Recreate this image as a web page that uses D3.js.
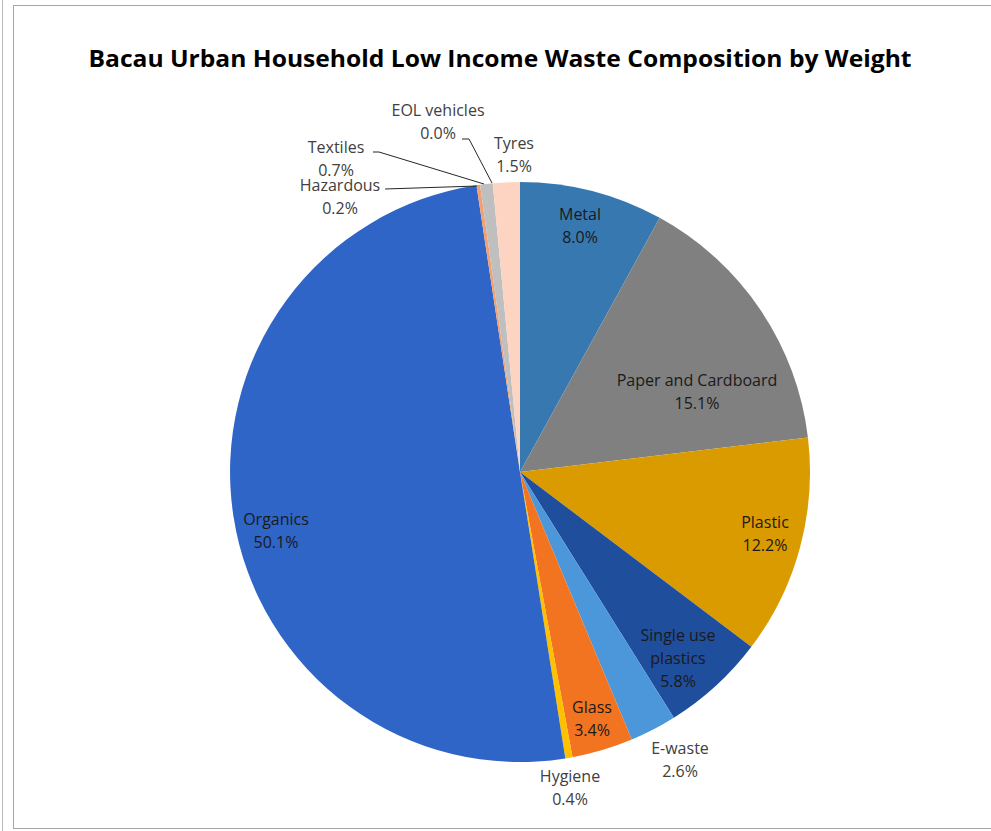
<!DOCTYPE html>
<html><head><meta charset="utf-8">
<script src="https://cdn.jsdelivr.net/npm/d3@7"></script>
<style>
html,body{margin:0;padding:0;background:#fff;}
svg{display:block;}
text{font-family:"Open Sans",sans-serif;}
</style></head>
<body>
<svg id="c" width="991" height="831"></svg>
<script>
const categories = ["Metal","Paper and Cardboard","Plastic","Single use plastics","E-waste","Glass","Hygiene","Organics","Hazardous","Textiles","EOL vehicles","Tyres"];
const values = [8.0,15.1,12.2,5.8,2.6,3.4,0.4,50.1,0.2,0.7,0.0,1.5];
const colors = ["#3878b0","#808080","#da9b00","#1f4e9d","#4c97d9","#f27420","#ffc000","#2f65c6","#f2a070","#bfbfbf","#9e9e9e","#fdd3c1"];
const title = "Bacau Urban Household Low Income Waste Composition by Weight";

// label layout (line breaks, centre offsets relative to pie centre, inside/outside)
const labelLines = {"Single use plastics":["Single use","plastics"]};
const labelLayout = {
  "Metal":[60,-246,true], "Paper and Cardboard":[177,-80,true], "Plastic":[245,62,true],
  "Single use plastics":[158,187,true], "E-waste":[160,288,false], "Glass":[72,247,true],
  "Hygiene":[50,316,false], "Organics":[-244,59,true], "Hazardous":[-180,-275,false],
  "Textiles":[-184,-313,false], "EOL vehicles":[-82,-350,false], "Tyres":[-6,-317,false]
};
const leaders = {
  "Hazardous":[[-135,-283],[-43,-286]],
  "Textiles":[[-147,-320],[-141,-320],[-36,-288]],
  "EOL vehicles":[[-58,-333],[-51,-333],[-28,-289]]
};

const svg = d3.select("#c");
const W = 991, H = 831;
// frame lines
svg.append("line").attr("x1",2.5).attr("x2",2.5).attr("y1",0).attr("y2",H).attr("stroke","#b8b8b8");
svg.append("rect").attr("x",13.5).attr("y",5.5).attr("width",W).attr("height",823)
  .attr("fill","#fff").attr("stroke","#a6a6a6");

svg.append("text").attr("x",500).attr("y",67).attr("text-anchor","middle")
  .attr("font-size",23).attr("font-weight","bold").attr("fill","#000")
  .attr("textLength",823).attr("lengthAdjust","spacingAndGlyphs").text(title);

const cx = 520, cy = 472, R = 290;
const g = svg.append("g").attr("transform",`translate(${cx},${cy})`);
const data = categories.map((c,i)=>({name:c,value:values[i],color:colors[i]}));
const pie = d3.pie().sort(null).value(d=>d.value).startAngle(0).endAngle(2*Math.PI);
const arc = d3.arc().innerRadius(0).outerRadius(R);
const arcs = pie(data);
g.selectAll("path.s").data(arcs).join("path").attr("class","s")
  .attr("d",arc).attr("fill",d=>d.data.color);

// leader lines
Object.entries(leaders).forEach(([k,pts])=>{
  g.append("path").attr("d",d3.line()(pts)).attr("fill","none").attr("stroke","#262626").attr("stroke-width",1);
});

const fmt = d3.format(".1f");
arcs.forEach(a=>{
  const name = a.data.name;
  const lay = labelLayout[name];
  const lines = (labelLines[name]||[name]).concat([fmt(a.data.value)+"%"]);
  const lh = 23;
  const t = g.append("text").attr("text-anchor","middle").attr("font-size",16)
    .attr("fill", lay[2] ? "#1a1a1a" : "#404040");
  const y0 = lay[1] - (lines.length-1)*lh/2 + 5;
  lines.forEach((l,i)=>{
    t.append("tspan").attr("x",lay[0]).attr("y",y0+i*lh).text(l);
  });
});
</script>
</body></html>
